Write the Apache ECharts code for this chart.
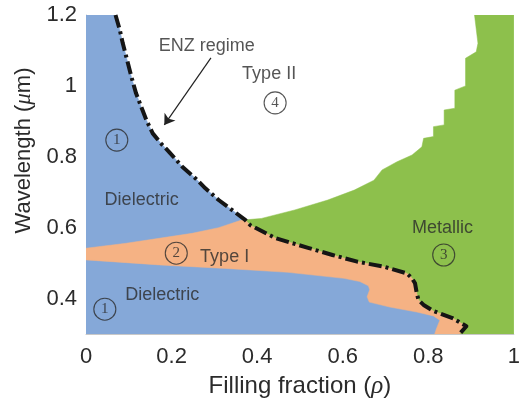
<!DOCTYPE html>
<html>
<head>
<meta charset="utf-8">
<script src="https://cdn.jsdelivr.net/npm/echarts@6/dist/echarts.min.js"></script>
<style>
  html, body { margin: 0; padding: 0; background: #fff; }
  #chart { width: 523px; height: 409px; }
</style>
</head>
<body>
<div id="chart"></div>
<script>
// Phase diagram of a metal/dielectric composite: filling fraction vs wavelength.

// ENZ boundary, from the top of the plot down to the triple point
const enzUpper = [
  [0.069, 1.2], [0.079, 1.158], [0.086, 1.120], [0.098, 1.064], [0.106, 1.026],
  [0.117, 0.979], [0.129, 0.941], [0.141, 0.904], [0.156, 0.866], [0.175, 0.838],
  [0.194, 0.814], [0.225, 0.772], [0.256, 0.739], [0.279, 0.711], [0.310, 0.678],
  [0.341, 0.650], [0.372, 0.622]
];
// ENZ boundary, from the triple point down to the bottom of the plot
const enzLower = [
  [0.372, 0.622], [0.384, 0.607], [0.442, 0.571], [0.519, 0.543], [0.576, 0.523],
  [0.634, 0.504], [0.696, 0.490], [0.750, 0.471], [0.762, 0.457], [0.769, 0.443],
  [0.773, 0.415], [0.777, 0.396], [0.789, 0.382], [0.812, 0.365], [0.858, 0.344],
  [0.889, 0.322], [0.873, 0.300]
];
// Metallic / Type II boundary
const metallicTop = [
  [0.372, 0.622], [0.410, 0.626], [0.488, 0.650], [0.565, 0.678], [0.627, 0.706],
  [0.673, 0.734], [0.692, 0.763], [0.727, 0.786], [0.762, 0.805], [0.785, 0.828],
  [0.789, 0.852], [0.812, 0.857], [0.812, 0.885], [0.837, 0.890], [0.837, 0.932],
  [0.862, 0.937], [0.862, 0.988], [0.887, 1.000], [0.887, 1.078], [0.912, 1.096],
  [0.916, 1.120], [0.908, 1.2]
];
// Upper edge of the Type I band (left of the triple point)
const typeITop = [
  [0, 0.542], [0.094, 0.556], [0.171, 0.570], [0.248, 0.584], [0.310, 0.600],
  [0.360, 0.620], [0.372, 0.622]
];
// Lower edge of the Type I band
const typeIBottom = [
  [0, 0.509], [0.171, 0.495], [0.326, 0.485], [0.472, 0.474], [0.603, 0.457],
  [0.640, 0.448], [0.660, 0.436], [0.663, 0.425], [0.657, 0.405], [0.662, 0.390],
  [0.710, 0.376], [0.773, 0.362], [0.812, 0.351], [0.827, 0.339], [0.819, 0.315],
  [0.815, 0.300]
];

const xTicks = [0, 0.2, 0.4, 0.6, 0.8, 1];
const yTicks = [0.4, 0.6, 0.8, 1, 1.2];

// Region names and circled indices, anchored in data coordinates
const regionNames = [
  ['Type II', 0.428, 1.034],
  ['Dielectric', 0.130, 0.678],
  ['Type I', 0.324, 0.517],
  ['Dielectric', 0.178, 0.410],
  ['Metallic', 0.833, 0.599]
];
const regionIndices = [
  ['1', 0.072, 0.847],
  ['4', 0.442, 0.952],
  ['2', 0.211, 0.528],
  ['1', 0.044, 0.370],
  ['3', 0.836, 0.523]
];
const enzNote = { text: 'ENZ regime', at: [0.282, 1.113], from: [0.292, 1.079], to: [0.183, 0.890] };

const COLORS = { dielectric: '#85a8d8', typeI: '#f5b284', metallic: '#8dc04c' };
const FONT = '"Liberation Sans", Arial, sans-serif';
const SERIF = '"Liberation Serif", "DejaVu Serif", serif';
const INK = '#2b2b2b';

const polygons = [
  { name: 'dielectric', color: COLORS.dielectric,
    pts: [[0, 0.3], [0, 1.2]].concat(enzUpper, enzLower.slice(1)) },
  { name: 'metallic', color: COLORS.metallic,
    pts: metallicTop.concat([[1, 1.2], [1, 0.3]], enzLower.slice().reverse()) },
  { name: 'typeI', color: COLORS.typeI,
    pts: typeITop.concat(enzLower.slice(1), typeIBottom.slice().reverse()) }
];

function fmt(v) { return String(+v.toFixed(1)); }

const regionSeries = polygons.map(p => ({
  type: 'custom',
  name: p.name,
  coordinateSystem: 'cartesian2d',
  silent: true,
  clip: true,
  data: [[0.5, 0.5]],
  renderItem: (params, api) => ({
    type: 'polygon',
    shape: { points: p.pts.map(pt => api.coord(pt)) },
    style: { fill: p.color, stroke: p.color, lineWidth: 0.5 }
  })
}));

const option = {
  animation: false,
  backgroundColor: '#ffffff',
  grid: { left: 86, right: 5, top: 15, bottom: 75, containLabel: false },
  xAxis: {
    type: 'value', min: 0, max: 1, interval: 0.2,
    name: 'Filling fraction ({i|ρ})',
    nameLocation: 'middle', nameGap: 40,
    nameTextStyle: {
      fontFamily: FONT, fontSize: 24, color: INK,
      rich: { i: { fontFamily: SERIF, fontStyle: 'italic', fontSize: 25, color: INK } }
    },
    axisLine: { show: true, lineStyle: { color: '#c8c8c8', width: 1 } },
    axisTick: { show: false },
    splitLine: { show: false },
    axisLabel: {
      fontFamily: FONT, fontSize: 22, color: INK, margin: 12,
      formatter: v => xTicks.some(t => Math.abs(t - v) < 1e-6) ? fmt(v) : ''
    }
  },
  yAxis: {
    type: 'value', min: 0.3, max: 1.2, interval: 0.1,
    name: 'Wavelength ({i|μ}m)',
    nameLocation: 'middle', nameGap: 48, nameRotate: 90,
    nameTextStyle: {
      fontFamily: FONT, fontSize: 22, color: INK,
      padding: [0, 0, 0, 48],
      rich: { i: { fontFamily: SERIF, fontStyle: 'italic', fontSize: 23, color: INK } }
    },
    axisLine: { show: true, lineStyle: { color: '#c8c8c8', width: 1 } },
    axisTick: { show: false },
    splitLine: { show: false },
    axisLabel: {
      fontFamily: FONT, fontSize: 22, color: INK, margin: 9,
      formatter: v => yTicks.some(t => Math.abs(t - v) < 1e-6) ? fmt(v) : ''
    }
  },
  series: regionSeries.concat([
    {
      type: 'line',
      name: 'ENZ',
      data: enzUpper.concat(enzLower.slice(1)),
      showSymbol: false,
      symbol: 'none',
      silent: true,
      z: 5,
      lineStyle: { color: '#151515', width: 4, type: [13, 4, 3, 4], cap: 'butt', join: 'round' },
      markLine: {
        silent: true,
        symbol: ['none', 'arrow'],
        symbolSize: 10,
        label: { show: false },
        lineStyle: { color: '#222', width: 1.2, type: 'solid' },
        data: [[{ coord: enzNote.from }, { coord: enzNote.to }]]
      }
    },
    {
      type: 'scatter',
      name: 'names',
      silent: true,
      z: 6,
      symbolSize: 1,
      itemStyle: { color: 'rgba(0,0,0,0)' },
      data: regionNames.map(r => ({ value: [r[1], r[2]], name: r[0] }))
        .concat([{ value: enzNote.at, name: enzNote.text }]),
      label: {
        show: true, position: 'inside',
        formatter: p => p.name,
        fontFamily: FONT, fontSize: 18, color: INK
      }
    },
    {
      type: 'scatter',
      name: 'indices',
      silent: true,
      z: 6,
      symbol: 'circle',
      symbolSize: 22,
      itemStyle: { color: 'rgba(0,0,0,0)', borderColor: INK, borderWidth: 1.1 },
      data: regionIndices.map(r => ({ value: [r[1], r[2]], name: r[0] })),
      label: {
        show: true, position: 'inside',
        formatter: p => p.name,
        fontFamily: SERIF, fontSize: 15, color: INK
      }
    }
  ])
};

const chart = echarts.init(document.getElementById('chart'), null, { renderer: 'canvas' });
chart.setOption(option);
</script>
</body>
</html>
